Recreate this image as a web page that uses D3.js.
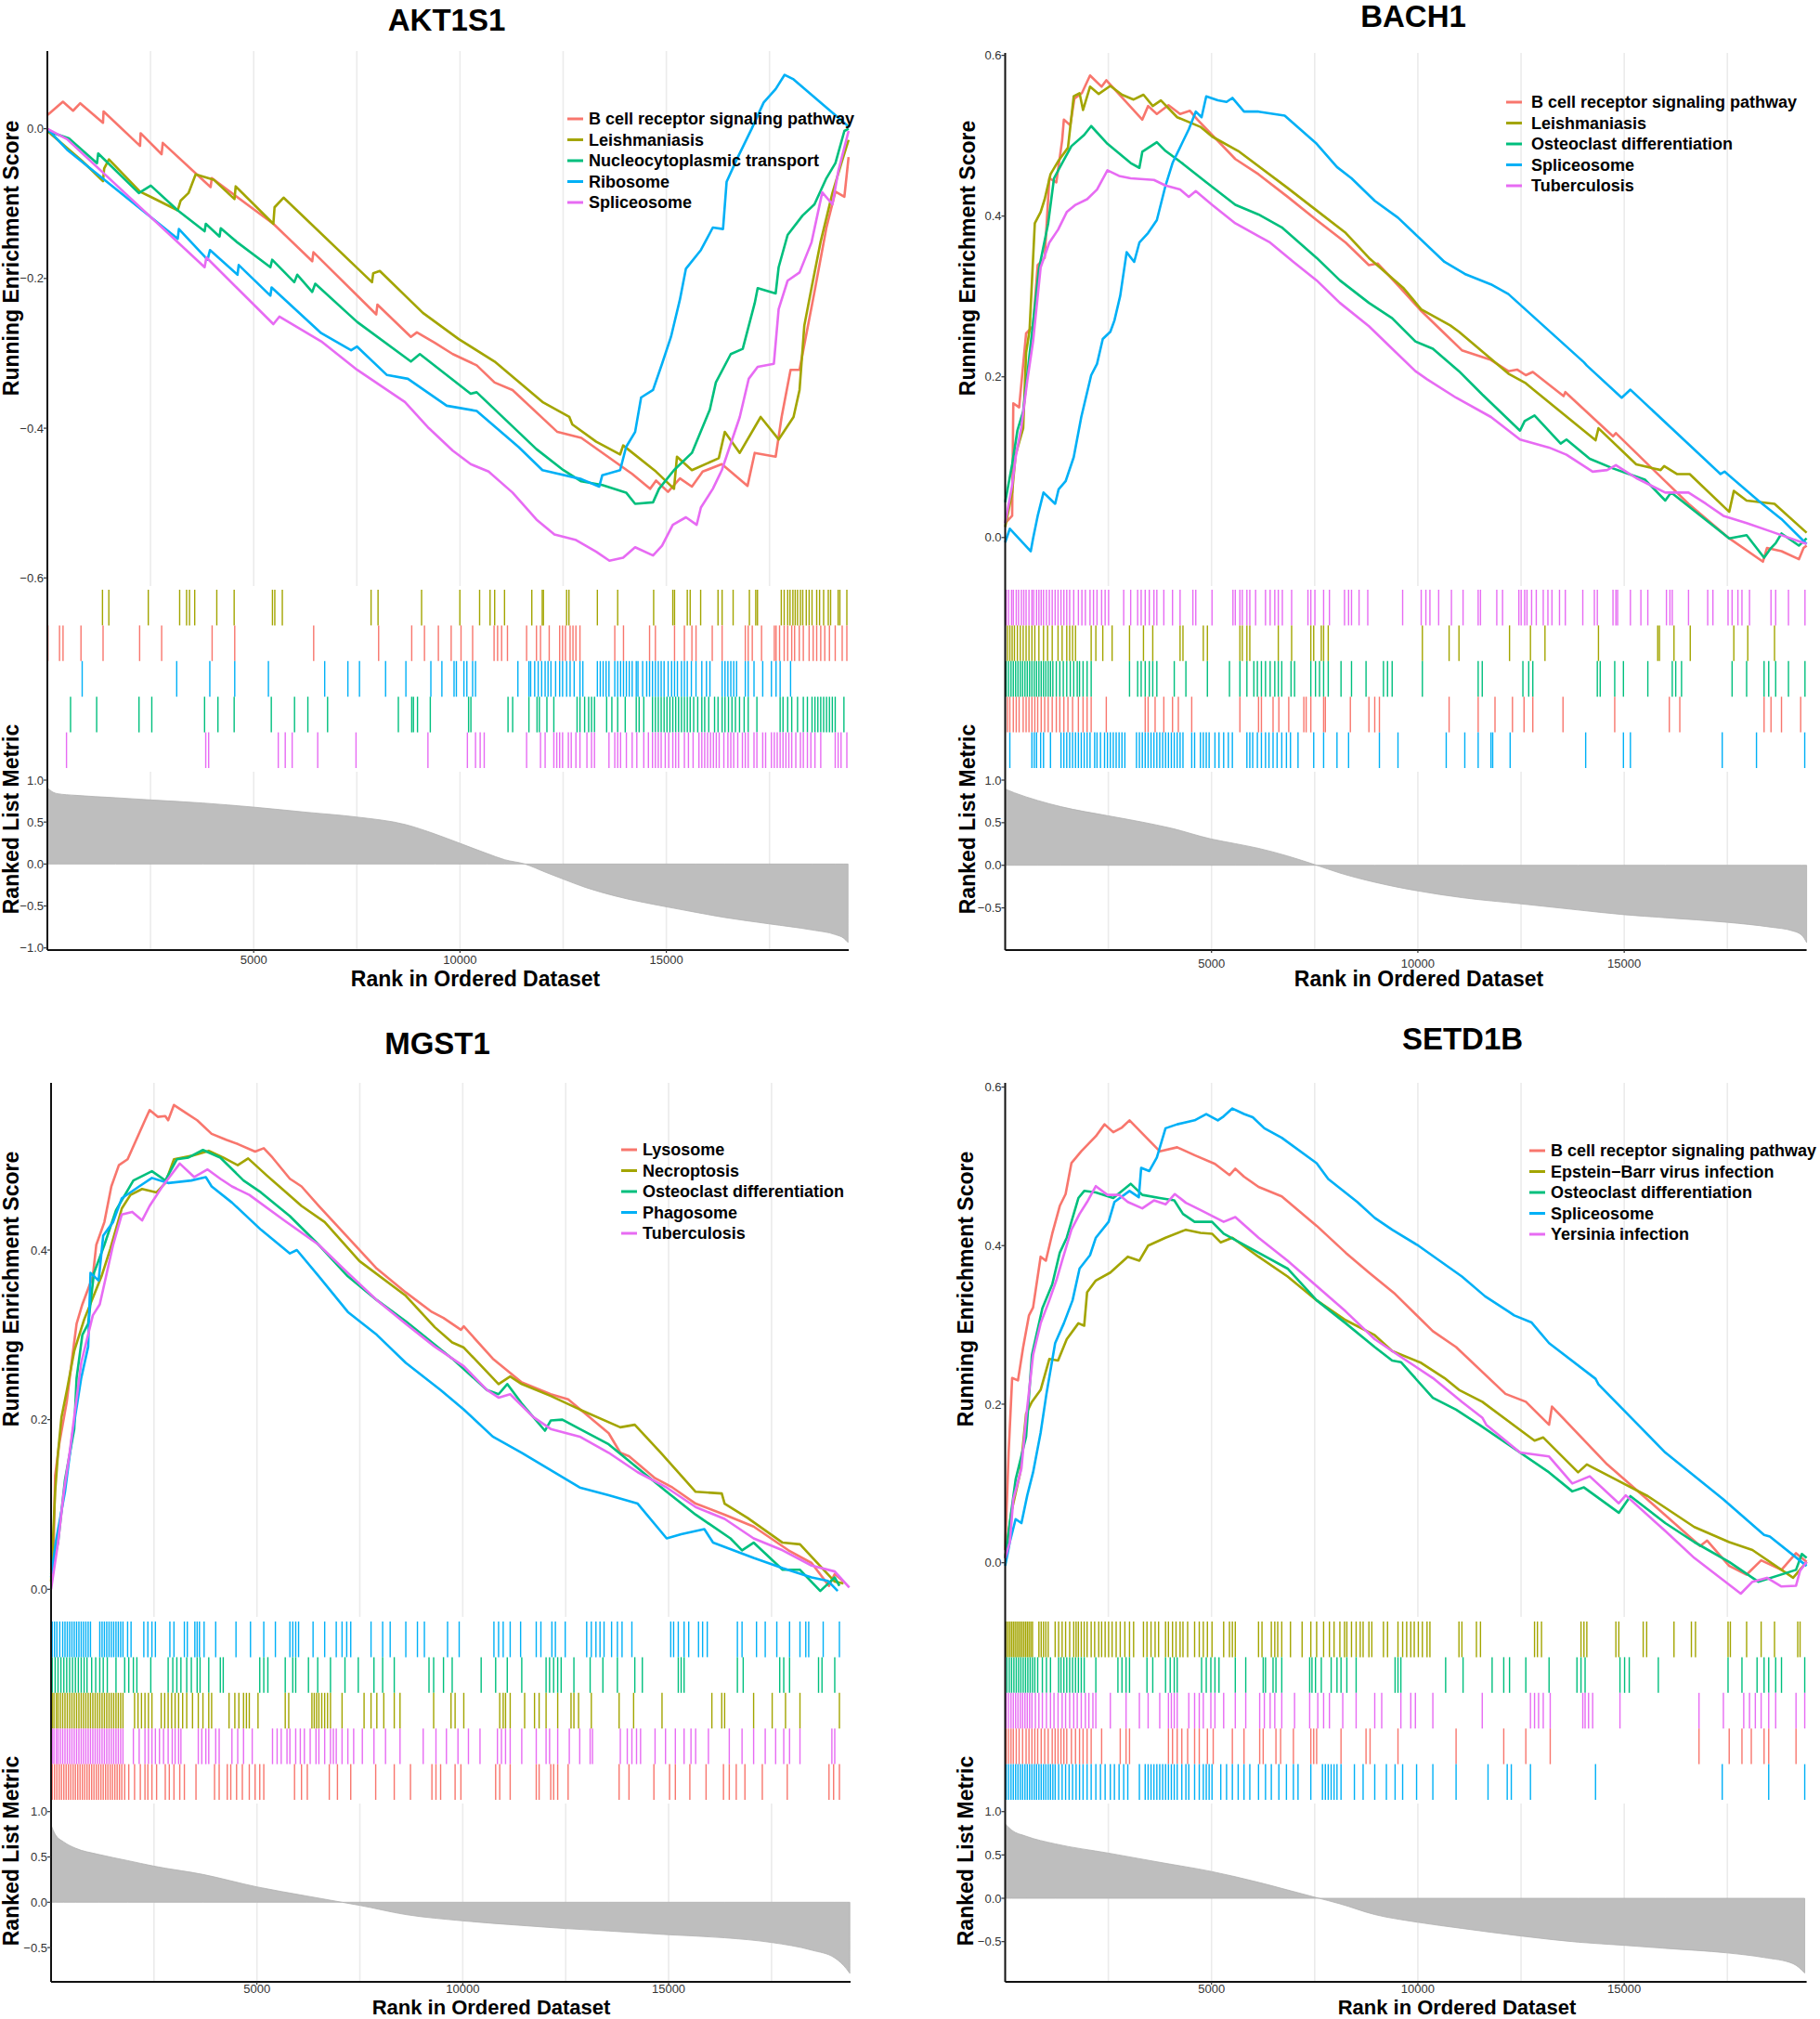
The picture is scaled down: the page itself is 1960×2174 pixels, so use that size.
<!DOCTYPE html>
<html>
<head>
<meta charset="utf-8">
<script src="https://cdn.jsdelivr.net/npm/d3@7"></script>
<style>
  body { margin: 0; background: #fff; }
  svg { display: block; }
  text { font-family: "Liberation Sans", Arial, sans-serif; }
</style>
</head>
<body>
<svg id="chart" width="1960" height="2174"></svg>
<script>
// ranked list length
const N = 19420;
const hue = ['#F8766D', '#A3A500', '#00BF7D', '#00B0F6', '#E76BF3'];
const xTicks = [5000, 10000, 15000];
const gridRanks = [2500, 5000, 7500, 10000, 12500, 15000, 17500];

// ---------- AKT1S1 ----------
const aktSets = ['B cell receptor signaling pathway', 'Leishmaniasis', 'Nucleocytoplasmic transport', 'Ribosome', 'Spliceosome'];
const aktEsTicks = [0, -0.2, -0.4, -0.6];
const aktMetricTicks = [1, 0.5, 0, -0.5, -1];
const aktRugOrder = [1, 0, 3, 2, 4];

const aktEs1 = [[0,0.018],[377,0.036],[623,0.024],[797,0.034],[1348,0.008],[1362,0.023],[2246,-0.023],[2260,-0.006],[2768,-0.034],[2797,-0.019],[3956,-0.078],[3985,-0.066],[5477,-0.127],[6419,-0.177],[6448,-0.165],[7970,-0.248],[7998,-0.235],[8810,-0.278],[8955,-0.272],[9390,-0.286],[9824,-0.301],[10404,-0.316],[10839,-0.339],[11273,-0.349],[12360,-0.405],[12940,-0.413],[14171,-0.461],[14606,-0.481],[14751,-0.470],[15041,-0.485],[15330,-0.467],[15620,-0.478],[15881,-0.458],[16345,-0.448],[16968,-0.477],[17142,-0.433],[17650,-0.438],[17794,-0.385],[18011,-0.322],[18228,-0.322],[18590,-0.218],[18880,-0.132],[19098,-0.084],[19315,-0.091],[19417,-0.038]];
const aktEs2 = [[0,-0.003],[840,-0.043],[1348,-0.070],[1377,-0.053],[1492,-0.041],[2246,-0.084],[2507,-0.091],[3159,-0.109],[3231,-0.096],[3420,-0.086],[3594,-0.061],[4028,-0.068],[4535,-0.094],[4564,-0.077],[5477,-0.127],[5506,-0.105],[5724,-0.092],[7868,-0.205],[7897,-0.193],[8056,-0.190],[9100,-0.246],[9969,-0.281],[10839,-0.311],[11998,-0.365],[12650,-0.385],[12722,-0.395],[13302,-0.418],[13881,-0.435],[13954,-0.423],[14751,-0.458],[15186,-0.481],[15258,-0.438],[15620,-0.456],[16272,-0.440],[16417,-0.405],[16779,-0.433],[17286,-0.385],[17722,-0.415],[18083,-0.385],[18228,-0.349],[18344,-0.263],[18518,-0.213],[18735,-0.152],[19025,-0.086],[19243,-0.046],[19417,-0.015]];
const aktEs3 = [[0,-0.003],[522,-0.013],[1203,-0.046],[1232,-0.033],[2217,-0.086],[2507,-0.076],[3159,-0.109],[3811,-0.137],[3840,-0.127],[4173,-0.144],[4202,-0.133],[4608,-0.152],[5405,-0.185],[5448,-0.175],[5984,-0.205],[6057,-0.195],[6419,-0.218],[6492,-0.207],[7506,-0.258],[8810,-0.311],[9027,-0.301],[10259,-0.354],[10404,-0.352],[11853,-0.428],[12505,-0.456],[12940,-0.471],[13447,-0.476],[14026,-0.486],[14244,-0.501],[14678,-0.499],[14823,-0.481],[15186,-0.456],[15620,-0.433],[16055,-0.375],[16200,-0.339],[16562,-0.301],[16852,-0.294],[17142,-0.233],[17214,-0.213],[17650,-0.220],[17722,-0.185],[17939,-0.142],[18301,-0.116],[18590,-0.101],[18880,-0.066],[19098,-0.046],[19315,-0.003],[19417,0]];
const aktEs4 = [[0,0],[478,-0.028],[3159,-0.147],[3188,-0.134],[3883,-0.175],[3941,-0.162],[4608,-0.195],[4637,-0.182],[5405,-0.223],[5434,-0.212],[6636,-0.273],[7361,-0.296],[7506,-0.291],[8230,-0.329],[8737,-0.334],[9679,-0.370],[10404,-0.377],[11418,-0.425],[11998,-0.456],[12940,-0.468],[13374,-0.478],[13447,-0.463],[13881,-0.456],[14026,-0.425],[14244,-0.405],[14389,-0.359],[14678,-0.349],[14896,-0.314],[15113,-0.278],[15330,-0.228],[15475,-0.187],[15838,-0.162],[16127,-0.132],[16374,-0.134],[16461,-0.071],[16707,-0.041],[17069,0.0],[17359,0.035],[17650,0.053],[17867,0.072],[18083,0.066],[19417,0.003]];
const aktEs5 = [[0,0],[478,-0.014],[3811,-0.185],[3854,-0.172],[5477,-0.261],[5622,-0.251],[6636,-0.284],[7506,-0.322],[8665,-0.365],[9245,-0.400],[9824,-0.430],[10259,-0.448],[10694,-0.458],[11273,-0.486],[11853,-0.522],[12288,-0.542],[12795,-0.549],[13302,-0.565],[13621,-0.577],[13954,-0.573],[14244,-0.559],[14678,-0.570],[14896,-0.557],[15157,-0.529],[15475,-0.519],[15736,-0.529],[15838,-0.506],[16127,-0.481],[16345,-0.456],[16780,-0.385],[16997,-0.334],[17214,-0.318],[17606,-0.314],[17722,-0.241],[17939,-0.203],[18228,-0.192],[18518,-0.152],[18779,-0.085],[19025,-0.101],[19170,-0.056],[19417,-0.003]];

const aktHits1 = [14,295,380,815,1350,2236,2770,3993,4541,6454,8028,8830,9139,9476,9786,10025,10306,10826,10911,11009,11150,11614,11853,11951,12162,12415,12486,12556,12668,12738,12809,12907,13751,13962,14594,14735,15199,15438,15620,15720,16113,16352,16914,16984,17083,17308,17617,17660,17744,17856,17941,18039,18109,18222,18320,18461,18559,18644,18742,18840,18953,19093,19262,19375];
const aktHits2 = [1336,1490,2446,3206,3374,3445,3571,4106,4527,5455,5512,5694,7845,8014,9069,9997,10475,10728,10840,11079,11740,11993,12021,12584,12640,13329,13821,14693,15157,15199,15508,15578,15832,16253,16352,16619,17013,17167,17209,17786,17856,17941,17997,18067,18123,18180,18250,18306,18391,18461,18531,18644,18714,18812,18925,18981,19164,19206,19375];
const aktHits3 = [562,1195,2221,2531,3810,4134,4527,5427,5990,6313,6791,8506,8830,8872,8970,9280,10208,10264,11164,11276,11670,11867,11923,12106,12274,12837,12907,13020,13118,13188,13259,13554,13680,13821,14004,14271,14341,14454,14665,14735,14805,14875,14946,15016,15086,15157,15227,15297,15368,15438,15508,15578,15663,15761,15860,15930,16028,16169,16253,16352,16422,16506,16591,16675,16774,16886,16984,17195,17758,17828,17941,18039,18180,18320,18419,18531,18602,18672,18742,18812,18883,18953,19023,19093,19304];
const aktHits4 = [844,3135,3937,4541,5357,6721,7283,7564,8197,8689,9294,9561,9856,9912,10095,10166,10306,10376,11403,11670,11712,11810,11895,11979,12063,12134,12204,12317,12415,12486,12584,12668,12767,12907,12977,13329,13399,13469,13540,13610,13751,13821,13891,13962,14032,14102,14172,14271,14313,14426,14524,14594,14665,14735,14805,14875,14946,15044,15128,15199,15269,15367,15438,15508,15607,15719,15860,15972,16057,16352,16422,16492,16563,16633,16703,16914,16984,17125,17336,17547,17659,17758,18011];
const aktHits5 = [464,3838,3909,5596,5765,5933,6552,7480,9223,10179,10376,10489,10587,11614,11951,12063,12274,12345,12415,12486,12626,12696,12809,12907,13076,13188,13259,13610,13751,13821,13891,14032,14172,14285,14454,14566,14665,14735,14805,14875,14974,15058,15157,15227,15297,15438,15536,15649,15790,15860,15930,16000,16071,16141,16211,16281,16394,16492,16563,16633,16731,16844,16914,16984,17125,17195,17336,17406,17547,17617,17687,17758,17828,17898,17969,18039,18138,18250,18320,18419,18503,18602,18742,19093,19164,19234,19375];

const aktMetric = [[0,0.911],[112,0.863],[253,0.838],[675,0.819],[1659,0.790],[2503,0.764],[3768,0.727],[4977,0.679],[6299,0.616],[7480,0.561],[8689,0.469],[9392,0.358],[9997,0.247],[10657,0.125],[11079,0.052],[11571,0],[12063,-0.096],[12485,-0.177],[13048,-0.280],[13751,-0.380],[14988,-0.509],[15719,-0.576],[16422,-0.638],[17477,-0.712],[18531,-0.786],[19093,-0.841],[19304,-0.886],[19403,-0.934]];

// ---------- BACH1 ----------
const bachSets = ['B cell receptor signaling pathway', 'Leishmaniasis', 'Osteoclast differentiation', 'Spliceosome', 'Tuberculosis'];
const bachEsTicks = [0, 0.2, 0.4, 0.6];
const bachMetricTicks = [1, 0.5, 0, -0.5];
const bachRugOrder = [4, 1, 2, 0, 3];

const bachEs1 = [[0,0.018],[169,0.027],[197,0.167],[338,0.162],[507,0.254],[676,0.263],[788,0.339],[957,0.348],[1070,0.447],[1239,0.442],[1380,0.494],[1422,0.520],[1577,0.513],[1676,0.546],[1859,0.553],[2056,0.575],[2337,0.561],[2450,0.569],[3323,0.520],[3464,0.537],[3675,0.527],[3956,0.538],[4238,0.527],[4477,0.531],[4660,0.520],[5576,0.471],[6139,0.452],[6843,0.424],[7547,0.395],[8251,0.367],[8814,0.339],[9025,0.341],[9659,0.306],[10081,0.282],[10644,0.254],[11067,0.233],[11771,0.221],[12193,0.207],[12404,0.209],[12616,0.202],[12785,0.206],[13531,0.176],[13573,0.181],[14728,0.126],[14798,0.130],[15854,0.077],[16558,0.042],[17544,-0.001],[18360,-0.030],[18459,-0.013],[18811,-0.017],[19233,-0.027],[19346,-0.013],[19420,-0.010]];
const bachEs2 = [[0,0.013],[169,0.056],[253,0.103],[436,0.136],[507,0.230],[591,0.258],[718,0.391],[859,0.405],[957,0.421],[1098,0.452],[1281,0.468],[1521,0.485],[1661,0.549],[1802,0.553],[1887,0.532],[2056,0.561],[2267,0.552],[2548,0.562],[2830,0.551],[3112,0.545],[3351,0.551],[3576,0.537],[3773,0.544],[4168,0.523],[4731,0.511],[5012,0.499],[5646,0.481],[6843,0.435],[7547,0.407],[8251,0.379],[8814,0.348],[9659,0.310],[10081,0.284],[10785,0.264],[10996,0.256],[12193,0.204],[12616,0.192],[12827,0.183],[14305,0.121],[14376,0.136],[15291,0.091],[15882,0.084],[15967,0.089],[16277,0.079],[16587,0.079],[17544,0.032],[17656,0.058],[17966,0.046],[18642,0.042],[19420,0.006]];
const bachEs3 = [[0,0.044],[169,0.091],[296,0.133],[436,0.157],[648,0.254],[817,0.334],[1042,0.391],[1183,0.447],[1380,0.466],[1605,0.487],[1915,0.501],[2084,0.512],[2478,0.490],[3041,0.466],[3252,0.460],[3323,0.480],[3675,0.492],[3886,0.481],[4308,0.465],[4872,0.442],[5576,0.414],[6139,0.402],[6702,0.386],[7547,0.348],[8110,0.320],[8814,0.292],[9377,0.273],[9940,0.244],[10363,0.235],[10996,0.207],[11560,0.178],[12475,0.133],[12588,0.145],[12827,0.152],[13460,0.117],[13601,0.122],[14165,0.098],[14728,0.086],[15502,0.072],[15995,0.046],[16136,0.056],[17544,-0.001],[17966,0.003],[18389,-0.025],[18557,-0.013],[18670,-0.007],[18811,0.005],[19233,-0.010],[19420,-0.001]];
const bachEs4 = [[0,-0.006],[113,0.011],[620,-0.017],[676,-0.001],[788,0.027],[929,0.056],[1211,0.042],[1295,0.060],[1464,0.070],[1661,0.100],[1844,0.150],[2084,0.202],[2225,0.216],[2365,0.247],[2548,0.256],[2647,0.270],[2788,0.301],[2943,0.355],[3126,0.343],[3252,0.367],[3464,0.379],[3675,0.395],[3886,0.438],[4055,0.466],[4280,0.490],[4449,0.508],[4618,0.530],[4759,0.523],[4872,0.549],[5153,0.544],[5364,0.542],[5505,0.547],[5787,0.530],[6139,0.530],[6773,0.525],[7547,0.490],[8040,0.461],[8392,0.447],[8955,0.419],[9518,0.398],[10644,0.343],[11137,0.328],[11771,0.315],[12193,0.303],[14024,0.218],[14094,0.214],[14939,0.174],[15150,0.184],[17333,0.079],[17431,0.082],[18248,0.046],[18811,0.023],[19420,-0.008]];
const bachEs5 = [[0,0.018],[169,0.065],[253,0.100],[394,0.138],[535,0.195],[676,0.244],[859,0.336],[1070,0.367],[1281,0.383],[1492,0.405],[1704,0.414],[1985,0.421],[2225,0.433],[2478,0.457],[2760,0.450],[3041,0.447],[3604,0.445],[3886,0.438],[4238,0.433],[4449,0.424],[4618,0.431],[5012,0.414],[5576,0.391],[6420,0.367],[6984,0.343],[7547,0.320],[8110,0.292],[8814,0.263],[9377,0.235],[9940,0.207],[10222,0.197],[10926,0.174],[11771,0.150],[12475,0.122],[13179,0.112],[13601,0.103],[14235,0.082],[14587,0.084],[14798,0.090],[15291,0.074],[15995,0.056],[16558,0.056],[16981,0.042],[17403,0.027],[17966,0.018],[18529,0.008],[19420,-0.008]];

const bachHits1 = [56,113,197,268,338,436,507,577,648,718,788,873,957,1042,1140,1239,1324,1422,1521,1633,1774,1887,1985,2084,2450,3393,3464,3633,3844,4055,4196,4520,5688,6139,6209,6491,6632,6871,7237,7293,7406,7716,7758,8364,8814,8955,9068,10757,11461,11869,12292,12573,12785,13517,14770,16093,16347,18389,18557,18811,19276];
const bachHits2 = [56,113,169,225,296,366,436,507,577,648,718,817,929,1028,1140,1281,1380,1492,1563,1633,1704,2084,2197,2365,2591,3013,3351,3576,4238,4308,4801,4900,5688,5745,5857,5928,6618,6941,7406,7476,7660,7716,7828,10109,10757,10996,12221,12728,13080,14376,15812,15854,16206,16600,17656,17994,18642];
const bachHits3 = [28,84,141,197,253,310,366,422,479,535,591,648,704,760,817,873,929,986,1042,1098,1155,1239,1324,1408,1492,1577,1661,1746,1802,1887,1985,2084,3013,3210,3295,3393,3492,3576,3675,4097,4379,4900,5435,5688,5857,6026,6111,6209,6308,6420,6533,6618,6702,6927,7012,7406,7519,7617,7716,7828,8138,8392,8744,9166,9265,9377,10109,11461,11560,12545,12686,12785,14348,14418,14770,14981,15572,16164,16248,16389,17614,17966,18389,18501,18670,18980,19380];
const bachHits4 = [113,648,704,760,859,929,1098,1352,1422,1492,1563,1633,1704,1774,1844,1915,1985,2056,2168,2225,2309,2408,2478,2548,2619,2689,2760,2830,2900,3182,3252,3323,3393,3464,3534,3604,3675,3745,3816,3886,3956,4027,4097,4168,4238,4308,4520,4590,4731,4801,4872,4942,5083,5181,5294,5407,5505,5857,5928,5998,6111,6209,6308,6392,6491,6589,6702,6815,6913,7096,7476,7716,8040,8321,9068,9518,10687,11137,11461,11771,11813,12236,14066,14981,15150,17375,18205,19374];
const bachHits5 = [28,84,155,197,268,324,394,451,507,577,648,690,760,817,873,929,1000,1070,1140,1211,1281,1352,1422,1492,1563,1661,1774,1859,1943,2056,2140,2225,2337,2422,2506,2872,3041,3210,3295,3393,3492,3604,3675,3844,4055,4238,4548,4618,5012,5519,5576,5688,5745,5857,5928,6068,6308,6420,6533,6618,6716,6941,7336,7406,7505,7716,7857,8223,8321,8392,8575,8786,9631,10081,10194,10292,10504,10813,11095,11461,11517,11912,12052,12447,12503,12588,12644,12756,12869,13038,13151,13249,13432,13573,13996,14277,14348,14728,14798,14840,15150,15404,15572,16023,16108,16164,16558,17023,17149,17516,17614,17755,17853,18036,18557,18670,18980,19380];

const bachMetric = [[0,0.895],[225,0.851],[788,0.761],[1352,0.688],[2506,0.580],[3323,0.507],[4027,0.435],[5000,0.308],[5576,0.254],[6139,0.199],[6843,0.109],[7505,0.007],[8110,-0.091],[8955,-0.199],[9997,-0.301],[11067,-0.380],[12503,-0.453],[13883,-0.525],[14995,-0.580],[15995,-0.616],[17501,-0.670],[18529,-0.725],[19092,-0.772],[19303,-0.822],[19420,-0.906]];

// ---------- MGST1 ----------
const mgstSets = ['Lysosome', 'Necroptosis', 'Osteoclast differentiation', 'Phagosome', 'Tuberculosis'];
const mgstEsTicks = [0, 0.2, 0.4];
const mgstMetricTicks = [1, 0.5, 0, -0.5];
const mgstRugOrder = [3, 2, 1, 4, 0];

const mgstEs1 = [[0,0.023],[56,0.037],[99,0.134],[197,0.171],[380,0.221],[521,0.276],[620,0.313],[760,0.336],[1014,0.369],[1098,0.406],[1295,0.433],[1464,0.475],[1647,0.500],[1859,0.507],[2070,0.530],[2281,0.553],[2394,0.565],[2591,0.557],[2774,0.558],[2844,0.553],[2985,0.571],[3267,0.562],[3548,0.553],[3900,0.537],[4252,0.530],[4534,0.525],[4956,0.516],[5167,0.520],[5379,0.509],[5801,0.484],[6083,0.475],[6505,0.452],[7913,0.378],[8617,0.350],[9251,0.327],[9532,0.320],[9955,0.306],[10025,0.310],[10729,0.272],[11433,0.244],[12137,0.230],[12560,0.224],[13545,0.184],[13826,0.161],[14038,0.157],[14671,0.131],[15094,0.120],[15657,0.101],[16361,0.088],[17065,0.074],[17910,0.046],[18473,0.031],[18896,0.004],[19036,0.018],[19248,0.009]];
const mgstEs2 = [[0,0.009],[99,0.115],[169,0.161],[253,0.203],[394,0.237],[563,0.281],[803,0.318],[1225,0.369],[1436,0.401],[1718,0.449],[1929,0.465],[2211,0.472],[2563,0.468],[2774,0.479],[2985,0.507],[3407,0.511],[3830,0.517],[4182,0.509],[4534,0.500],[4787,0.508],[5238,0.488],[5660,0.470],[6083,0.452],[6646,0.433],[7491,0.387],[8617,0.346],[9321,0.309],[9743,0.291],[10025,0.285],[10870,0.242],[11152,0.251],[11433,0.242],[12137,0.228],[12841,0.212],[13826,0.191],[14178,0.194],[14812,0.161],[15657,0.115],[16291,0.113],[16361,0.101],[16924,0.084],[17769,0.055],[18192,0.053],[19036,0.009],[19248,0.007]];
const mgstEs3 = [[0,0.018],[169,0.055],[338,0.129],[563,0.189],[620,0.249],[760,0.300],[901,0.313],[1042,0.373],[1295,0.406],[1577,0.447],[1999,0.482],[2450,0.493],[2774,0.482],[3055,0.507],[3337,0.509],[3689,0.518],[4111,0.509],[4675,0.482],[5097,0.468],[5801,0.440],[6505,0.406],[7209,0.369],[7913,0.341],[8617,0.316],[9743,0.272],[10588,0.235],[10870,0.230],[11081,0.242],[11433,0.219],[11996,0.187],[12137,0.199],[12419,0.200],[12841,0.189],[13545,0.171],[14249,0.143],[14953,0.115],[15657,0.088],[16502,0.060],[16784,0.046],[17065,0.055],[17769,0.023],[18192,0.023],[18684,-0.002],[19036,0.014],[19149,0.004]];
const mgstEs4 = [[0,0.014],[113,0.055],[338,0.115],[521,0.184],[732,0.249],[901,0.286],[958,0.373],[1155,0.364],[1267,0.417],[1506,0.433],[1718,0.461],[2140,0.475],[2450,0.485],[2844,0.479],[3407,0.482],[3759,0.486],[3900,0.475],[4393,0.456],[5097,0.424],[5801,0.396],[5970,0.400],[6505,0.369],[7209,0.327],[7913,0.300],[8617,0.267],[9462,0.235],[10025,0.212],[10729,0.180],[11433,0.161],[12841,0.120],[13545,0.111],[14249,0.101],[14953,0.060],[15305,0.065],[15868,0.071],[16080,0.055],[17065,0.037],[17769,0.025],[18473,0.014],[18867,0.010],[19107,-0.002]];
const mgstEs5 = [[0,0],[169,0.055],[310,0.115],[451,0.161],[732,0.267],[1014,0.323],[1183,0.336],[1506,0.406],[1718,0.442],[1971,0.445],[2211,0.435],[2394,0.452],[2703,0.475],[3126,0.502],[3478,0.486],[3802,0.495],[4111,0.484],[4393,0.475],[4815,0.465],[5660,0.435],[6505,0.406],[7209,0.373],[7913,0.341],[8617,0.313],[9321,0.286],[10025,0.263],[10588,0.235],[10870,0.226],[11152,0.230],[11715,0.203],[12137,0.189],[12841,0.180],[13545,0.161],[14249,0.138],[14953,0.120],[15657,0.097],[16361,0.083],[17065,0.060],[17769,0.046],[18473,0.028],[19036,0.021],[19389,0.002]];

const mgstHits1 = [28,84,141,197,253,310,366,422,479,535,591,648,704,760,817,873,929,986,1042,1098,1155,1211,1267,1324,1380,1436,1492,1549,1605,1661,1718,1788,1887,2028,2168,2281,2351,2450,2563,2774,2872,2985,3126,3238,3520,3971,4083,4280,4365,4506,4646,4815,4956,5069,5167,5914,6083,6224,6758,6956,7279,7885,8336,8730,9251,9349,9462,9814,9955,10799,10898,11152,11785,11855,12137,12207,12306,12559,13798,14038,14643,15023,15164,15516,15910,16333,16474,16643,16854,17276,17882,18896,19008,19149];
const mgstHits2 = [28,70,127,169,225,282,338,394,451,507,563,620,676,732,788,845,901,957,1014,1070,1126,1183,1239,1295,1352,1408,1464,1521,1577,1633,1690,1746,2028,2112,2196,2281,2365,2450,2675,2760,2844,2929,3013,3098,3196,3295,3436,3576,3689,3830,3900,4323,4464,4562,4675,4745,4815,5027,5688,5773,6336,6392,6449,6505,6575,6646,6716,6787,7068,7603,7772,7913,8082,8336,8476,9293,9715,9814,10025,10898,10982,11039,11152,11503,11743,11855,12024,12306,12630,12700,12813,13123,13798,14150,14840,16051,16291,16361,17065,17516,17840,18191,19149];
const mgstHits3 = [28,99,169,239,310,380,451,521,591,662,732,803,873,986,1084,1183,1267,1366,1577,1788,1887,1999,2084,2422,2844,2957,3055,3154,3295,3407,3548,3619,3830,4111,4182,5069,5167,5266,5688,5871,5942,6252,6477,6787,7139,7462,7843,8054,8336,9180,9293,9532,9743,10447,10799,11081,11433,12024,12109,12207,12306,12390,12700,13094,13404,13756,14179,14362,15235,15305,15376,16671,16812,17699,17797,17938,18642,18726,19036];
const mgstHits4 = [28,84,141,211,282,338,394,451,507,563,620,676,732,788,845,901,957,1183,1239,1295,1352,1408,1464,1521,1577,1633,1690,1746,1859,1943,2253,2351,2450,2534,2886,2985,3238,3309,3492,3548,3604,3717,3999,4492,4844,5167,5449,5801,5871,5942,6012,6364,6646,6927,7068,7181,7279,7772,8054,8237,8617,8899,9068,9631,9913,10757,10870,10982,11152,11405,11785,11898,12165,12250,12489,13010,13123,13235,13334,13432,13615,13756,13869,14108,15052,15122,15235,15376,15488,15727,15826,15939,16671,16784,17135,17347,17628,17938,18191,18332,18403,18755,19149];
const mgstHits5 = [28,70,127,169,225,282,338,394,451,507,563,620,676,732,788,845,901,957,1014,1070,1126,1183,1239,1295,1352,1408,1464,1521,1577,1633,1690,1746,1999,2140,2281,2365,2450,2534,2633,2732,2844,2943,3013,3098,3154,3576,3661,3759,3830,3999,4083,4393,4534,4675,4886,5379,5491,5590,5731,5801,5942,6054,6153,6294,6435,6505,6646,6787,6857,6927,7068,7209,7350,7561,7843,8124,8476,9039,9349,9603,9884,10138,10419,10842,10940,11039,11152,11433,11785,12024,12109,12306,12588,12841,13094,13151,13827,13996,14108,14221,14319,14671,14925,15164,15376,15544,15657,15967,16474,16784,17065,17347,17600,17797,17938,18191,18966,19036];

const mgstMetric = [[0,0.852],[99,0.750],[310,0.665],[591,0.597],[1155,0.528],[1859,0.460],[2492,0.399],[3689,0.307],[4998,0.170],[6223,0.068],[7068,0],[7491,-0.034],[8617,-0.136],[9997,-0.205],[11433,-0.256],[12489,-0.290],[13545,-0.317],[14995,-0.358],[16361,-0.392],[17487,-0.443],[18473,-0.528],[19036,-0.614],[19318,-0.733],[19402,-0.784]];

// ---------- SETD1B ----------
const setdSets = ['B cell receptor signaling pathway', 'Epstein\u2212Barr virus infection', 'Osteoclast differentiation', 'Spliceosome', 'Yersinia infection'];
const setdEsTicks = [0, 0.2, 0.4, 0.6];
const setdMetricTicks = [1, 0.5, 0, -0.5];
const setdRugOrder = [1, 2, 4, 0, 3];

const setdEs1 = [[0,0.016],[84,0.139],[169,0.233],[310,0.230],[436,0.272],[577,0.312],[676,0.322],[859,0.386],[986,0.381],[1140,0.415],[1323,0.450],[1464,0.465],[1605,0.504],[1844,0.519],[2197,0.538],[2408,0.553],[2619,0.543],[2830,0.549],[3013,0.558],[3745,0.519],[4168,0.524],[4590,0.514],[5083,0.503],[5435,0.489],[5576,0.497],[5787,0.487],[6139,0.474],[6702,0.462],[7547,0.425],[8251,0.391],[8814,0.366],[9448,0.339],[10363,0.292],[10926,0.272],[12123,0.213],[12616,0.203],[13179,0.174],[13250,0.197],[14587,0.124],[15995,0.060],[16840,0.021],[17009,0.028],[17544,-0.004],[17966,-0.015],[18318,0.003],[18811,-0.009],[19163,0.012],[19420,0.001]];
const setdEs2 = [[0,0.006],[155,0.065],[366,0.114],[507,0.188],[648,0.203],[859,0.218],[1070,0.257],[1281,0.255],[1492,0.282],[1774,0.302],[1915,0.299],[1985,0.341],[2197,0.356],[2548,0.366],[2971,0.386],[3252,0.381],[3464,0.400],[3886,0.410],[4379,0.420],[4731,0.416],[5012,0.415],[5224,0.404],[5505,0.410],[6139,0.386],[6843,0.361],[7547,0.331],[8251,0.306],[8955,0.287],[9377,0.267],[10081,0.252],[10644,0.233],[10996,0.218],[11560,0.203],[12827,0.154],[13038,0.158],[13883,0.114],[14094,0.124],[14798,0.105],[15572,0.084],[16699,0.045],[17544,0.026],[18107,0.016],[19093,-0.019],[19420,0.001]];
const setdEs3 = [[0,0.006],[84,0.040],[253,0.105],[507,0.159],[648,0.262],[901,0.321],[1140,0.351],[1323,0.391],[1492,0.410],[1774,0.460],[1915,0.469],[2197,0.467],[2619,0.460],[3041,0.478],[3323,0.464],[3745,0.460],[4097,0.457],[4308,0.440],[4590,0.430],[5012,0.430],[5294,0.415],[6139,0.391],[6843,0.371],[7547,0.331],[8251,0.302],[8955,0.272],[9377,0.255],[9589,0.253],[10363,0.208],[10926,0.193],[11489,0.174],[12193,0.149],[13179,0.114],[13742,0.090],[14024,0.095],[14869,0.063],[15150,0.084],[15995,0.050],[16699,0.026],[17544,0.001],[18248,-0.024],[19163,-0.009],[19304,0.011],[19420,0.006]];
const setdEs4 = [[0,-0.004],[113,0.026],[253,0.055],[394,0.050],[535,0.085],[676,0.114],[859,0.164],[1000,0.213],[1211,0.277],[1422,0.302],[1633,0.331],[1802,0.371],[2056,0.388],[2197,0.410],[2506,0.430],[2647,0.455],[3013,0.469],[3238,0.461],[3295,0.498],[3492,0.494],[3675,0.511],[3886,0.548],[4168,0.553],[4590,0.558],[4872,0.566],[5153,0.558],[5294,0.563],[5505,0.573],[5787,0.566],[5998,0.562],[6280,0.548],[6702,0.536],[7547,0.504],[7828,0.484],[8532,0.455],[8955,0.435],[9377,0.420],[10011,0.400],[11067,0.361],[11630,0.336],[12193,0.317],[12334,0.312],[12756,0.303],[13179,0.277],[14305,0.232],[14376,0.225],[15995,0.139],[17403,0.080],[18389,0.035],[18529,0.033],[19420,-0.004]];
const setdEs5 = [[0,0.006],[113,0.026],[197,0.080],[394,0.119],[507,0.183],[676,0.262],[859,0.302],[1070,0.331],[1239,0.356],[1380,0.381],[1605,0.420],[1802,0.440],[1985,0.455],[2197,0.475],[2478,0.464],[2760,0.464],[2971,0.455],[3323,0.447],[3604,0.457],[3886,0.452],[4111,0.465],[4379,0.454],[4731,0.445],[5294,0.430],[5576,0.436],[6139,0.410],[6843,0.381],[8251,0.317],[8955,0.282],[9518,0.262],[10363,0.233],[11067,0.203],[11560,0.183],[11658,0.174],[12475,0.139],[13179,0.134],[13742,0.100],[14165,0.109],[14869,0.075],[15038,0.085],[15995,0.040],[16699,0.006],[17825,-0.039],[18107,-0.024],[18459,-0.019],[18811,-0.030],[19163,-0.029],[19262,-0.010],[19420,0.001]];

const setdHits1 = [28,84,141,197,268,338,422,507,577,648,718,788,873,957,1042,1140,1211,1281,1352,1422,1492,1605,1704,1802,1887,1985,2084,2337,2788,2929,3013,3956,4055,4168,4280,4421,4590,4703,4900,5041,5505,5787,6167,6252,6561,6674,6984,7406,7476,7547,8138,8744,8842,9518,10926,12081,12616,13207,16812,17544,17853,18079,18389,18501,19163];
const setdHits2 = [28,70,113,155,197,239,282,324,366,408,451,493,535,577,620,662,817,873,929,986,1042,1211,1295,1380,1464,1563,1661,1718,1774,1844,1915,1985,2084,2168,2267,2337,2422,2506,2591,2689,2788,2900,3013,3112,3351,3436,3534,3633,3717,3886,3956,4055,4140,4238,4308,4421,4590,4703,4801,4900,5012,5294,5435,5505,5576,6139,6223,6449,6533,6604,6702,6913,7195,7406,7547,7716,7857,7969,8110,8223,8279,8392,8504,8603,8673,8814,8884,9166,9265,9518,9631,9729,9828,9912,10011,10109,10222,10292,10996,11067,11419,11517,12827,12897,12996,13953,14024,14094,14798,14869,15460,15544,16206,16628,16727,17516,17572,17966,18318,18642,19205,19261];
const setdHits3 = [42,99,155,211,268,324,380,436,493,549,605,662,718,788,901,1000,1098,1295,1352,1422,1492,1563,1633,1704,1774,1844,1915,2197,2732,2830,2929,3013,3436,3576,3886,3999,4097,4168,4759,4872,4984,5083,5181,5576,5829,6252,6308,6491,6561,6702,7378,7434,7519,7660,7899,8040,8138,8279,8504,9448,9518,9588,10673,11095,11799,12081,12221,12616,13179,13855,13953,14052,14897,15009,15122,15826,17516,17853,18219,18389,18501,18670,18811,19374];
const setdHits4 = [28,84,141,197,253,310,366,422,479,535,591,648,704,760,817,873,929,986,1042,1098,1155,1211,1295,1380,1464,1549,1633,1718,1802,1887,1985,2084,2197,2309,2422,2548,2647,2760,2872,2971,3252,3393,3464,3534,3604,3675,3745,3816,3886,3956,4027,4097,4168,4280,4379,4449,4590,4703,4801,4872,4942,5012,5224,5364,5505,5646,5787,5928,6139,6308,6449,6632,6815,6984,7096,7406,7688,7758,7828,7899,7969,8040,8138,8462,8673,8955,9237,9448,9631,9969,10363,10926,11700,12165,12264,12728,14305,17375,18501,19374];
const setdHits5 = [28,84,141,197,253,310,366,422,479,535,591,648,732,817,901,1000,1098,1183,1281,1380,1464,1563,1661,1746,1844,1943,2028,2126,2197,2548,2929,3252,3464,3745,3956,4027,4097,4168,4449,4590,4703,4801,4984,5083,5294,5576,5829,6167,6280,6420,6533,6702,7012,7378,7575,7716,7857,8180,8504,8955,9124,9588,9828,9940,10363,11560,12728,12827,12925,13038,13207,13996,14052,14136,14235,14897,16812,17403,17896,18036,18177,18318,18501,18670,19163,19374];

const setdMetric = [[0,0.858],[155,0.787],[507,0.716],[1211,0.628],[2506,0.521],[3745,0.415],[5000,0.309],[6139,0.184],[6843,0.096],[7547,0.007],[8110,-0.064],[8955,-0.188],[9997,-0.277],[11067,-0.348],[12503,-0.436],[13883,-0.507],[14995,-0.543],[15995,-0.578],[17501,-0.631],[18389,-0.684],[19092,-0.755],[19374,-0.862]];

// ---------- assemble panels ----------
const panels = [
  { title: 'AKT1S1', sets: aktSets, es: [aktEs1, aktEs2, aktEs3, aktEs4, aktEs5],
    hits: [aktHits1, aktHits2, aktHits3, aktHits4, aktHits5], rugOrder: aktRugOrder,
    metric: aktMetric, esTicks: aktEsTicks, metricTicks: aktMetricTicks },
  { title: 'BACH1', sets: bachSets, es: [bachEs1, bachEs2, bachEs3, bachEs4, bachEs5],
    hits: [bachHits1, bachHits2, bachHits3, bachHits4, bachHits5], rugOrder: bachRugOrder,
    metric: bachMetric, esTicks: bachEsTicks, metricTicks: bachMetricTicks },
  { title: 'MGST1', sets: mgstSets, es: [mgstEs1, mgstEs2, mgstEs3, mgstEs4, mgstEs5],
    hits: [mgstHits1, mgstHits2, mgstHits3, mgstHits4, mgstHits5], rugOrder: mgstRugOrder,
    metric: mgstMetric, esTicks: mgstEsTicks, metricTicks: mgstMetricTicks },
  { title: 'SETD1B', sets: setdSets, es: [setdEs1, setdEs2, setdEs3, setdEs4, setdEs5],
    hits: [setdHits1, setdHits2, setdHits3, setdHits4, setdHits5], rugOrder: setdRugOrder,
    metric: setdMetric, esTicks: setdEsTicks, metricTicks: setdMetricTicks }
];

// pixel layout of the 2x2 grid (two reference ticks fix each y scale)
const layout = [
  { x0: 51, x1: 914, titleX: 481, titleY: 33,
    esTop: 55, esBot: 631, esRef: [0, -0.6], esPx: [138.6, 622.3],
    rugTop: 635, rugBot: 827, mTop: 831, mBot: 1023, mRef: [1, -1], mPx: [840, 1020.7],
    yTitleX: 20, esTitleY: 278, mTitleY: 882, xTitleX: 512, xTitleY: 1062, xTitleSize: 23, xTickY: 1038,
    legKey: 611, legText: 634, legY: 128 },
  { x0: 1082.5, x1: 1945.6, titleX: 1522, titleY: 29,
    esTop: 57, esBot: 631, esRef: [0.6, 0], esPx: [59.6, 578.8],
    rugTop: 635, rugBot: 827, mTop: 831, mBot: 1023, mRef: [1, 0], mPx: [840, 931.7],
    yTitleX: 1050, esTitleY: 278, mTitleY: 882, xTitleX: 1528, xTitleY: 1062, xTitleSize: 23, xTickY: 1042,
    legKey: 1622, legText: 1649, legY: 110 },
  { x0: 55, x1: 916, titleX: 471, titleY: 1135,
    esTop: 1166, esBot: 1741, esRef: [0.4, 0], esPx: [1346, 1711.3],
    rugTop: 1746, rugBot: 1938, mTop: 1942, mBot: 2134, mRef: [1, 0], mPx: [1950.7, 2048.3],
    yTitleX: 20, esTitleY: 1388, mTitleY: 1993, xTitleX: 529, xTitleY: 2169, xTitleSize: 22, xTickY: 2145.5,
    legKey: 669, legText: 692, legY: 1238 },
  { x0: 1082.5, x1: 1945.6, titleX: 1575, titleY: 1130,
    esTop: 1166, esBot: 1741, esRef: [0.6, 0], esPx: [1170.5, 1682.7],
    rugTop: 1746, rugBot: 1938, mTop: 1942, mBot: 2134, mRef: [1, 0], mPx: [1950.7, 2044],
    yTitleX: 1048, esTitleY: 1388, mTitleY: 1993, xTitleX: 1569, xTitleY: 2169, xTitleSize: 22, xTickY: 2145.5,
    legKey: 1647, legText: 1670, legY: 1239 }
];

const svg = d3.select('#chart');
const fmt1 = d3.format('.1f');

function drawPanel(p, L) {
  const g = svg.append('g').attr('class', 'panel');
  const x = d3.scaleLinear().domain([0, N]).range([L.x0, L.x1]);
  const yEs = d3.scaleLinear().domain(L.esRef).range(L.esPx);
  const yM = d3.scaleLinear().domain(L.mRef).range(L.mPx);

  // vertical grid lines in the score and metric panels
  [[L.esTop, L.esBot], [L.mTop, L.mBot]].forEach(([t, b]) => {
    g.append('g').selectAll('line').data(gridRanks).join('line')
      .attr('x1', d => x(d)).attr('x2', d => x(d))
      .attr('y1', t).attr('y2', b)
      .attr('stroke', '#ebebeb').attr('stroke-width', 1.6);
  });

  // ranked list metric
  const area = d3.area()
    .x(d => x(d[0])).y0(yM(0)).y1(d => yM(d[1]))
    .curve(d3.curveMonotoneX);
  g.append('path').datum(p.metric).attr('d', area)
    .attr('fill', '#bebebe').attr('stroke', '#b0b0b0').attr('stroke-width', 0.8);

  // running enrichment score lines
  const line = d3.line().x(d => x(d[0])).y(d => yEs(d[1]));
  p.es.forEach((s, i) => {
    g.append('path').datum(s).attr('d', line)
      .attr('fill', 'none').attr('stroke', hue[i])
      .attr('stroke-width', 2.6).attr('stroke-linejoin', 'round');
  });

  // hit rugs
  const rowH = (L.rugBot - L.rugTop) / 5;
  p.rugOrder.forEach((setIdx, row) => {
    const top = L.rugTop + row * rowH;
    g.append('g').selectAll('line').data(p.hits[setIdx]).join('line')
      .attr('x1', d => x(d)).attr('x2', d => x(d))
      .attr('y1', top).attr('y2', top + rowH)
      .attr('stroke', hue[setIdx]).attr('stroke-width', 1.4);
  });

  // axes
  g.append('line').attr('x1', L.x0).attr('x2', L.x0).attr('y1', L.esTop).attr('y2', L.mBot)
    .attr('stroke', '#111').attr('stroke-width', 2);
  g.append('line').attr('x1', L.x0).attr('x2', L.x1).attr('y1', L.mBot).attr('y2', L.mBot)
    .attr('stroke', '#111').attr('stroke-width', 2);

  const tickText = (sel) => sel.attr('font-size', 13).attr('fill', '#333');

  // y ticks, enrichment score
  const esT = g.append('g').selectAll('g').data(p.esTicks).join('g');
  esT.append('line').attr('x1', L.x0 - 4).attr('x2', L.x0)
    .attr('y1', d => yEs(d)).attr('y2', d => yEs(d)).attr('stroke', '#333').attr('stroke-width', 1.2);
  esT.append('text').attr('x', L.x0 - 4).attr('y', d => yEs(d)).attr('dy', '0.35em')
    .attr('text-anchor', 'end').text(d => fmt1(d)).call(tickText);

  // y ticks, metric
  const mT = g.append('g').selectAll('g').data(p.metricTicks).join('g');
  mT.append('line').attr('x1', L.x0 - 4).attr('x2', L.x0)
    .attr('y1', d => yM(d)).attr('y2', d => yM(d)).attr('stroke', '#333').attr('stroke-width', 1.2);
  mT.append('text').attr('x', L.x0 - 4).attr('y', d => yM(d)).attr('dy', '0.35em')
    .attr('text-anchor', 'end').text(d => fmt1(d)).call(tickText);

  // x ticks
  const xT = g.append('g').selectAll('g').data(xTicks).join('g');
  xT.append('line').attr('x1', d => x(d)).attr('x2', d => x(d))
    .attr('y1', L.mBot).attr('y2', L.mBot + 3).attr('stroke', '#333').attr('stroke-width', 1.2);
  xT.append('text').attr('x', d => x(d)).attr('y', L.xTickY)
    .attr('text-anchor', 'middle').text(d => d3.format('d')(d)).call(tickText);

  // titles
  g.append('text').attr('x', L.titleX).attr('y', L.titleY).attr('text-anchor', 'middle')
    .attr('font-size', 33).attr('font-weight', 'bold').attr('fill', '#000').text(p.title);
  g.append('text').attr('x', L.xTitleX).attr('y', L.xTitleY).attr('text-anchor', 'middle')
    .attr('font-size', L.xTitleSize).attr('font-weight', 'bold').attr('fill', '#000').text('Rank in Ordered Dataset');
  g.append('text').attr('transform', `translate(${L.yTitleX},${L.esTitleY}) rotate(-90)`)
    .attr('text-anchor', 'middle').attr('font-size', 23).attr('font-weight', 'bold')
    .attr('fill', '#000').text('Running Enrichment Score');
  g.append('text').attr('transform', `translate(${L.yTitleX},${L.mTitleY}) rotate(-90)`)
    .attr('text-anchor', 'middle').attr('font-size', 23).attr('font-weight', 'bold')
    .attr('fill', '#000').text('Ranked List Metric');

  // legend
  const leg = g.append('g').selectAll('g').data(p.sets).join('g')
    .attr('transform', (d, i) => `translate(0,${L.legY + i * 22.5})`);
  leg.append('line').attr('x1', L.legKey).attr('x2', L.legKey + 17).attr('y1', 0).attr('y2', 0)
    .attr('stroke', (d, i) => hue[i]).attr('stroke-width', 3);
  leg.append('text').attr('x', L.legText).attr('y', 0).attr('dy', '0.36em')
    .attr('font-size', 18).attr('font-weight', 'bold').attr('fill', '#000').text(d => d);
}

panels.forEach((p, i) => drawPanel(p, layout[i]));
</script>
</body>
</html>
